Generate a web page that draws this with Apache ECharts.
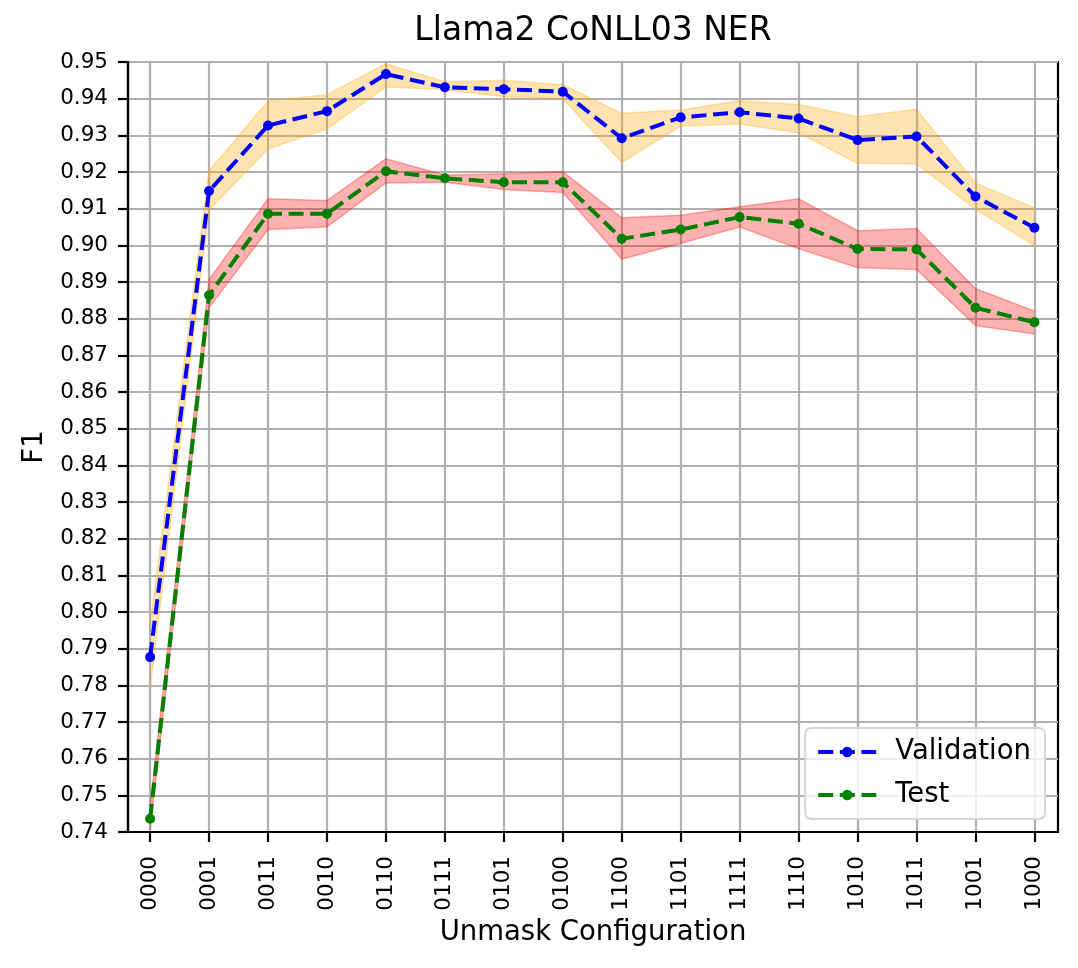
<!DOCTYPE html>
<html>
<head>
<meta charset="utf-8">
<script src="https://cdn.jsdelivr.net/npm/echarts@6/dist/echarts.min.js"></script>
<style>
  html, body { margin: 0; padding: 0; background: #fff; }
  #chart { width: 1078px; height: 968px; }
</style>
</head>
<body>
<div id="chart"></div>
<script>
var configs = ['0000', '0001', '0011', '0010', '0110', '0111', '0101', '0100',
               '1100', '1101', '1111', '1110', '1010', '1011', '1001', '1000'];

var valMean  = [0.7877, 0.9148, 0.9327, 0.9366, 0.9467, 0.9431, 0.9426, 0.9419,
                0.9292, 0.9349, 0.9363, 0.9346, 0.9287, 0.9297, 0.9133, 0.9048];
var valLow   = [0.7792, 0.9097, 0.9263, 0.9317, 0.9432, 0.9425, 0.9405, 0.9400,
                0.9226, 0.9325, 0.9331, 0.9307, 0.9224, 0.9222, 0.9099, 0.8999];
var valHigh  = [0.7965, 0.9203, 0.9394, 0.9411, 0.9495, 0.9446, 0.9450, 0.9438,
                0.9360, 0.9369, 0.9394, 0.9384, 0.9351, 0.9371, 0.9170, 0.9102];

var testMean = [0.7436, 0.8864, 0.9086, 0.9086, 0.9202, 0.9183, 0.9172, 0.9172,
                0.9018, 0.9043, 0.9077, 0.9059, 0.8990, 0.8989, 0.8830, 0.8790];
var testLow  = [0.7405, 0.8830, 0.9043, 0.9050, 0.9170, 0.9172, 0.9152, 0.9144,
                0.8962, 0.9005, 0.9050, 0.8991, 0.8939, 0.8934, 0.8781, 0.8758];
var testHigh = [0.7470, 0.8907, 0.9127, 0.9122, 0.9236, 0.9192, 0.9195, 0.9201,
                0.9075, 0.9082, 0.9105, 0.9127, 0.9040, 0.9046, 0.8882, 0.8821];

var font = 'DejaVu Sans';
var chart = echarts.init(document.getElementById('chart'), null, {renderer: 'canvas'});

function pts(arr) {
    return arr.map(function (v, i) { return [i, v]; });
}
var idx = configs.map(function (c, i) { return i; });

// fill_between-like band: one polygon through api.coord of low and high
function band(name, lo, hi, rgb) {
    return {
        name: name, type: 'custom', silent: true, z: 1,
        data: [[0, lo[0]]],
        clip: true,
        renderItem: function (params, api) {
            var top = hi.map(function (v, i) { return api.coord([i, v]); });
            var bot = lo.map(function (v, i) { return api.coord([i, v]); }).reverse();
            return {
                type: 'group',
                children: [
                    {type: 'polygon', shape: {points: top.concat(bot)},
                     style: {fill: 'rgba(' + rgb + ',0.3)', stroke: null}},
                    {type: 'polyline', shape: {points: top},
                     style: {fill: null, stroke: 'rgba(' + rgb + ',0.3)', lineWidth: 1.5}},
                    {type: 'polyline', shape: {points: bot},
                     style: {fill: null, stroke: 'rgba(' + rgb + ',0.3)', lineWidth: 1.5}}
                ]
            };
        }
    };
}

function meanLine(name, data, color) {
    return {
        name: name, type: 'line', data: pts(data), z: 3,
        symbol: 'circle', symbolSize: 10, showSymbol: true,
        itemStyle: {color: color},
        lineStyle: {color: color, width: 4, type: [15, 6.6]}
    };
}

var option = {
    animation: false,
    backgroundColor: '#fff',
    title: {
        text: 'Llama2 CoNLL03 NER',
        left: 593, top: 15, padding: 0, textAlign: 'center',
        textStyle: {fontFamily: font, fontSize: 33, fontWeight: 'normal', color: '#000'}
    },
    grid: {
        left: 128, right: 20, top: 62, bottom: 136,
        show: true, borderColor: '#000', borderWidth: 2.2, backgroundColor: 'transparent'
    },
    legend: {
        data: ['Validation', 'Test'],
        orient: 'vertical',
        right: 33, bottom: 149,
        itemWidth: 58, itemHeight: 13, itemGap: 15,
        padding: [10, 14, 10, 11],
        backgroundColor: 'rgba(255,255,255,0.8)',
        borderColor: '#d5d5d5', borderWidth: 2, borderRadius: 6,
        lineStyle: {width: 4, type: [15, 6.6]},
        textStyle: {fontFamily: font, fontSize: 27.5, color: '#000', padding: [0, 0, 0, 14]}
    },
    xAxis: {
        type: 'value',
        min: -0.375, max: 15.4,
        name: 'Unmask Configuration',
        nameLocation: 'middle', nameGap: 83,
        nameTextStyle: {fontFamily: font, fontSize: 27.5, color: '#000'},
        axisLine: {show: true, onZero: false, lineStyle: {color: '#000', width: 2.2}},
        axisTick: {show: true, inside: false, length: 10, customValues: idx,
                   lineStyle: {color: '#000', width: 2.2}},
        axisLabel: {
            customValues: idx, rotate: 90, margin: 24,
            fontFamily: font, fontSize: 21.5, color: '#000',
            formatter: function (v) { return configs[Math.round(v)]; }
        },
        splitLine: {show: true, lineStyle: {color: '#b0b0b0', width: 2.2}}
    },
    yAxis: {
        type: 'value',
        min: 0.74, max: 0.95, interval: 0.01,
        name: 'F1',
        nameLocation: 'middle', nameGap: 76,
        nameTextStyle: {fontFamily: font, fontSize: 27.5, color: '#000'},
        axisLine: {show: true, onZero: false, lineStyle: {color: '#000', width: 2.2}},
        axisTick: {show: true, inside: false, length: 10, lineStyle: {color: '#000', width: 2.2}},
        axisLabel: {
            margin: 20, fontFamily: font, fontSize: 21.5, color: '#000',
            formatter: function (v) { return v.toFixed(2); }
        },
        splitLine: {show: true, lineStyle: {color: '#b0b0b0', width: 2.2}}
    },
    series: [
        band('valBand', valLow, valHigh, '255,165,0'),
        band('testBand', testLow, testHigh, '255,0,0'),
        meanLine('Validation', valMean, '#0000ff'),
        meanLine('Test', testMean, '#008000')
    ]
};

chart.setOption(option);
</script>
</body>
</html>
